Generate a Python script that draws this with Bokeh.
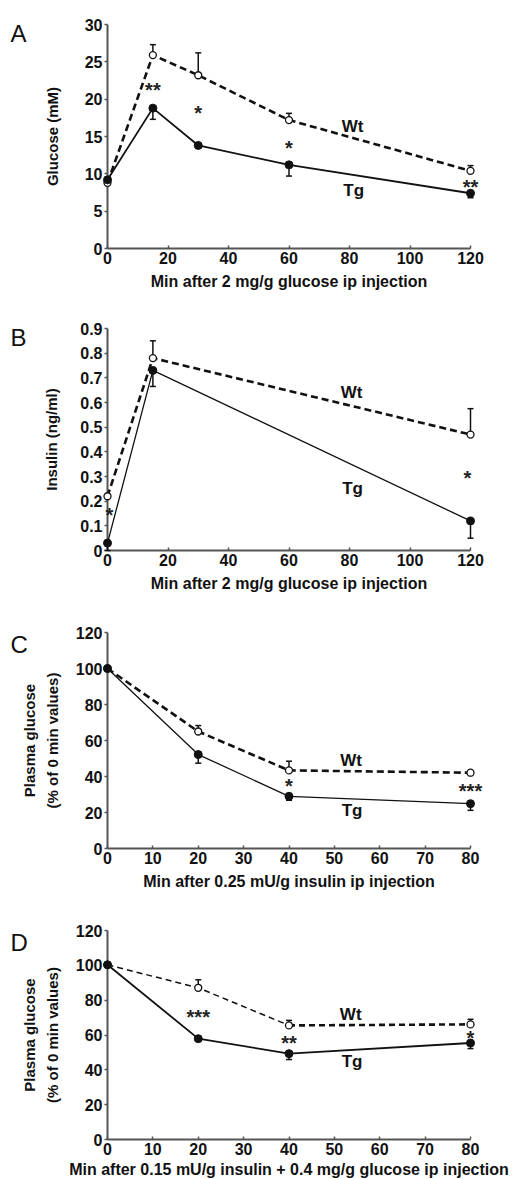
from bokeh.plotting import figure
from bokeh.models import Range1d, LinearAxis, FixedTicker, NumeralTickFormatter
from bokeh.layouts import column
from bokeh.embed import file_html
from bokeh.resources import INLINE
from bokeh.core.properties import value

# ---------------- data ----------------
# Panel A: glucose tolerance (glucose, mM)
t_A = [0, 15, 30, 60, 120]
wt_A = [8.8, 25.9, 23.2, 17.2, 10.4]
wt_A_err = [0.0, 1.4, 3.0, 0.9, 0.7]
tg_A = [9.2, 18.8, 13.8, 11.2, 7.4]
tg_A_err = [0.0, 1.5, 0.3, 1.5, 0.6]
stars_A = ["**", "*", "*", "**"]
stars_A_x = [15, 30, 60, 120]
stars_A_y = [21.7, 18.7, 14.0, 8.8]

# Panel B: insulin (ng/ml)
t_B = [0, 15, 120]
wt_B = [0.22, 0.78, 0.47]
wt_B_err = [0.0, 0.07, 0.105]
tg_B = [0.03, 0.73, 0.12]
tg_B_err = [0.03, 0.065, 0.07]
stars_B = ["*", "*"]
stars_B_x = [0.6, 119]
stars_B_y = [0.16, 0.31]

# Panel C: insulin tolerance (% of 0 min)
t_C = [0, 20, 40, 80]
wt_C = [100, 65.0, 43.4, 42.1]
wt_C_err = [0.0, 3.3, 5.1, 0.5]
tg_C = [100, 52.2, 29.0, 24.9]
tg_C_err = [0.0, 4.8, 2.2, 3.7]
stars_C = ["*", "***"]
stars_C_x = [40, 80]
stars_C_y = [36.9, 34.0]

# Panel D: insulin + glucose (% of 0 min)
t_D = [0, 20, 40, 80]
wt_D = [100.3, 87.1, 65.5, 66.1]
wt_D_err = [0.0, 4.6, 2.9, 2.9]
tg_D = [100.3, 57.9, 49.3, 55.4]
tg_D_err = [0.0, 1.0, 3.4, 3.2]
stars_D = ["***", "**", "*"]
stars_D_x = [20, 40, 80]
stars_D_y = [72.8, 57.9, 60.8]

FONT = "Liberation Sans"
INK = "#111111"
AXIS = "#555555"
LV = "overlay"


def make_panel(letter, letter_base, fig_top, frame_top, frame_bottom, fig_bottom,
               xmax, xticks, ymax, yticks, xlabel, ylabel, ylabel_standoff,
               xlabel_standoff, t, wt, wt_err, tg, tg_err, tg_width,
               stars, stars_x, stars_y, wt_pos, tg_pos, yfmt=None, split_wt=None):
    X0, X1, W = 107, 470, 525
    sx = (X1 - X0) / xmax
    fh = frame_bottom - frame_top
    sy = fh / ymax
    p = figure(frame_width=X1 - X0, frame_height=fh,
               x_range=Range1d(0, xmax), y_range=Range1d(0, ymax),
               x_axis_type=None, y_axis_type=None,
               output_backend="svg", toolbar_location=None,
               min_border_left=X0, min_border_right=W - X1,
               min_border_top=frame_top - fig_top, min_border_bottom=fig_bottom - frame_bottom)
    p.outline_line_color = None
    p.xgrid.visible = False
    p.ygrid.visible = False
    p.background_fill_color = "white"

    xa = LinearAxis(ticker=FixedTicker(ticks=xticks))
    ya = LinearAxis(ticker=FixedTicker(ticks=yticks))
    if yfmt is not None:
        ya.formatter = yfmt
    for ax in (xa, ya):
        ax.axis_line_color = AXIS
        ax.axis_line_width = 2
        ax.major_tick_line_color = AXIS
        ax.major_tick_line_width = 1.5
        ax.minor_tick_line_color = None
        ax.major_label_text_font = FONT
        ax.major_label_text_font_style = "bold"
        ax.major_label_text_font_size = "16px"
        ax.major_label_text_color = INK
        ax.axis_label_text_font = FONT
        ax.axis_label_text_font_style = "bold"
        ax.axis_label_text_color = INK
    xa.major_tick_in = 3
    xa.major_tick_out = 0
    xa.major_label_standoff = 3
    xa.axis_label = xlabel
    xa.axis_label_text_font_size = "16px"
    xa.axis_label_standoff = xlabel_standoff
    ya.major_tick_in = 0
    ya.major_tick_out = 3
    ya.major_label_standoff = 2
    ya.axis_label = ylabel
    ya.axis_label_text_font_size = "15px"
    ya.axis_label_text_line_height = 1.33
    ya.axis_label_standoff = ylabel_standoff
    p.add_layout(xa, "below")
    p.add_layout(ya, "left")

    # lines
    if split_wt is None:
        p.line(t, wt, line_color=INK, line_width=2.6, line_dash="7 4", level=LV)
    else:
        k = split_wt
        p.line(t[:k + 1], wt[:k + 1], line_color=INK, line_width=1.5, line_dash="6 4", level=LV)
        p.line(t[k:], wt[k:], line_color=INK, line_width=2.6, line_dash="6 4", level=LV)
    p.line(t, tg, line_color=INK, line_width=tg_width, level=LV)

    # error bars
    wx = [a for a, e in zip(t, wt_err) if e > 0]
    wy0 = [v for v, e in zip(wt, wt_err) if e > 0]
    wy1 = [v + e for v, e in zip(wt, wt_err) if e > 0]
    p.segment(x0=wx, y0=wy0, x1=wx, y1=wy1, line_color=INK, line_width=1.5, level=LV)
    p.scatter(wx, wy1, marker="dash", size=6, line_color=INK, line_width=1.5, level=LV)
    gx = [a for a, e in zip(t, tg_err) if e > 0]
    gy0 = [v for v, e in zip(tg, tg_err) if e > 0]
    gy1 = [v - e for v, e in zip(tg, tg_err) if e > 0]
    p.segment(x0=gx, y0=gy0, x1=gx, y1=gy1, line_color=INK, line_width=1.5, level=LV)
    p.scatter(gx, gy1, marker="dash", size=6, line_color=INK, line_width=1.5, level=LV)

    # markers
    p.scatter(t, wt, marker="circle", size=7, fill_color="white", line_color=INK,
              line_width=1.3, level=LV)
    p.scatter(t, tg, marker="circle", size=8, fill_color=INK, line_color=INK, level=LV)

    # stars
    p.text(stars_x, stars_y, text=stars, text_font=value(FONT), text_font_style="bold",
           text_font_size="20px", text_color="#222222", text_align="center",
           text_baseline="middle", y_offset=4, level=LV)
    # series labels
    p.text([wt_pos[0], tg_pos[0]], [wt_pos[1], tg_pos[1]], text=["Wt", "Tg"],
           text_font=value(FONT), text_font_style="bold", text_font_size="17px",
           text_color=INK, text_align="center", text_baseline="middle", level=LV)

    # panel letter
    p.text([(10 - X0) / sx], [(frame_bottom - letter_base) / sy], text=[letter],
           text_font=value(FONT), text_font_size="24px", text_color=INK,
           text_baseline="alphabetic", text_align="left", level=LV)
    return p


pA = make_panel("A", 33, 0, 24, 248, 318, 120, [0, 20, 40, 60, 80, 100, 120],
                30, [0, 5, 10, 15, 20, 25, 30],
                "Min after 2 mg/g glucose ip injection", "Glucose (mM)", 21, 6,
                t_A, wt_A, wt_A_err, tg_A, tg_A_err, 1.8,
                stars_A, stars_A_x, stars_A_y, (81, 16.4), (81.4, 7.8))

pB = make_panel("B", 337, 318, 328, 550, 622, 120, [0, 20, 40, 60, 80, 100, 120],
                0.9, [0, 0.1, 0.2, 0.3, 0.4, 0.5, 0.6, 0.7, 0.8, 0.9],
                "Min after 2 mg/g glucose ip injection", "Insulin (ng/ml)", 17, 6,
                t_B, wt_B, wt_B_err, tg_B, tg_B_err, 1.3,
                stars_B, stars_B_x, stars_B_y, (80.7, 0.64), (81, 0.25),
                yfmt=NumeralTickFormatter(format="0.[0]"))

pC = make_panel("C", 644, 622, 632, 848, 920, 80, [0, 10, 20, 30, 40, 50, 60, 70, 80],
                120, [0, 20, 40, 60, 80, 100, 120],
                "Min after 0.25 mU/g insulin ip injection", "Plasma glucose\n(% of 0 min values)", 12, 6,
                t_C, wt_C, wt_C_err, tg_C, tg_C_err, 1.3,
                stars_C, stars_C_x, stars_C_y, (53.7, 48.9), (53.9, 21.2))

pD = make_panel("D", 942, 920, 930, 1139, 1179, 80, [0, 10, 20, 30, 40, 50, 60, 70, 80],
                120, [0, 20, 40, 60, 80, 100, 120],
                "Min after 0.15 mU/g insulin + 0.4 mg/g glucose ip injection",
                "Plasma glucose\n(% of 0 min values)", 12, 3,
                t_D, wt_D, wt_D_err, tg_D, tg_D_err, 1.8,
                stars_D, stars_D_x, stars_D_y, (53.6, 71.8), (53.9, 44.5), split_wt=2)

layout = column(pA, pB, pC, pD, spacing=0)
open("out.html", "w").write(file_html(layout, INLINE))
